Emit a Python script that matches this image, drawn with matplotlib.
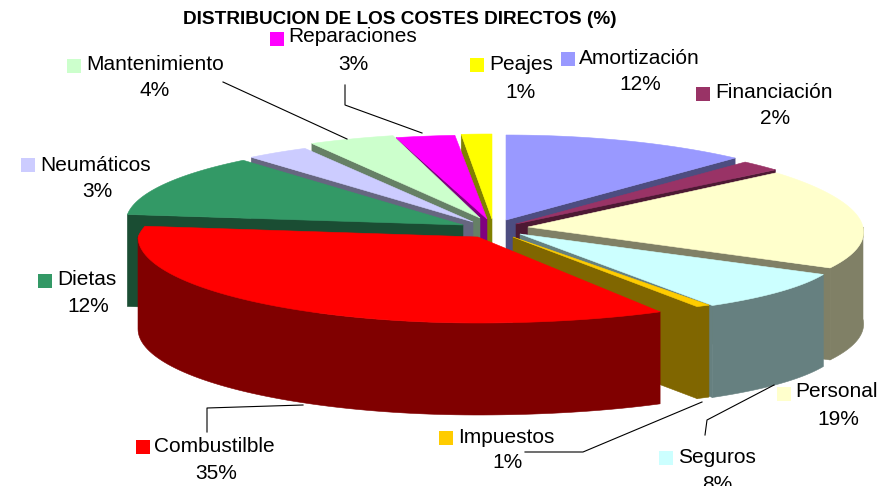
import numpy as np
import matplotlib
matplotlib.use('Agg')
import matplotlib.pyplot as plt
from matplotlib.patches import Polygon, Rectangle

plt.rcParams['font.family'] = ['Liberation Sans', 'DejaVu Sans']

names = ['Amortización', 'Financiación', 'Personal', 'Seguros', 'Impuestos', 'Combustilble',
         'Dietas', 'Neumáticos', 'Mantenimiento', 'Reparaciones', 'Peajes']
# shares, the labels show them rounded
values = [12, 2, 19, 8.2, 0.6, 35.2, 12, 3, 4, 2.6, 1.4]
top_colors = ['#9999FF', '#993366', '#FFFFCC', '#CCFFFF', '#FFCC00', '#FF0000',
              '#339966', '#CCCCFF', '#CCFFCC', '#FF00FF', '#FFFF00']
side_colors = ['#4D4D80', '#4D1933', '#808066', '#668080', '#806600', '#800000',
               '#1A4D33', '#666680', '#668066', '#800080', '#808000']

# pixel layout of each exploded slice: apex x, apex y, radius x, radius y, perspective
slices = [(506, 220, 350, 85, 0.06), (516, 224, 350, 85, 0.06), (528, 227, 335, 85, 0.06),
          (520, 234, 320, 84, 0.17), (513, 237, 355, 80, 0.06), (478, 237, 340, 86, 0.10),
          (463, 225, 337, 84, -0.03), (473, 222, 340, 84, -0.03), (480, 218, 340, 85, -0.03),
          (487, 219, 355, 84, -0.03), (492, 219, 340, 85, -0.03)]
depth = 92

# key x, key y, name x, name y, percent x, percent y
labels = [(561, 52, 579, 58, 640, 85), (696, 87, 715, 92, 775, 118), (777, 387, 795, 391, 838, 419),
          (659, 451, 678, 457, 717, 484), (439, 431, 458, 437, 508, 462), (136, 440, 154, 446, 216, 473),
          (38, 274, 57, 279, 88, 306), (21, 158, 40, 165, 97, 191), (67, 59, 86, 65, 155, 91),
          (270, 32, 288, 37, 353, 64), (470, 58, 489, 65, 521, 92)]

leaders = [([223, 347], [82, 139]),
           ([345, 345, 422], [85, 105, 133]),
           ([207, 207, 303], [432, 408, 405]),
           ([525, 583, 702], [452, 452, 402]),
           ([705, 707, 774], [435, 420, 385])]

fig = plt.figure(figsize=(8.95, 4.86), dpi=100)
ax = fig.add_axes([0, 0, 1, 1])
ax.set_xlim(0, 895)
ax.set_ylim(486, 0)
ax.axis('off')


def rim(s, t):
    cx, cy, a, b, p = s
    t = np.radians(t)
    # no perspective stretch in the front left quarter
    k = np.where((np.sin(t) < 0) & (np.cos(t) < 0), 1, 1 - p * np.cos(t))
    return cx + a * np.sin(t) * k, cy - b * np.cos(t)


def fill(xs, ys, color):
    ax.add_patch(Polygon(np.column_stack([xs, ys]), closed=True, fc=color, ec=color, lw=0.4))


def draw_slice(i, t0, t1):
    s = slices[i]
    cx, cy = s[0], s[1]
    side = side_colors[i]
    # radial cut faces that look at the viewer
    if np.sin(np.radians(t0)) < 0:
        x, y = rim(s, t0)
        fill([cx, x, x, cx], [cy, y, y + depth, cy + depth], side)
    if np.sin(np.radians(t1)) > 0:
        x, y = rim(s, t1)
        fill([cx, x, x, cx], [cy, y, y + depth, cy + depth], side)
    # outer wall, only the front half of the ellipse
    lo, hi = max(t0, 90), min(t1, 270)
    if hi > lo:
        x, y = rim(s, np.linspace(lo, hi, 80))
        fill(np.r_[x, x[::-1]], np.r_[y, y[::-1] + depth], side)
    x, y = rim(s, np.linspace(t0, t1, 80))
    fill(np.r_[cx, x], np.r_[cy, y], top_colors[i])


edges = np.r_[0, np.cumsum(values)] * 3.6
for i in [0, 1, 2, 3, 4, 10, 9, 8, 7, 6, 5]:
    draw_slice(i, edges[i], edges[i + 1])

for xs, ys in leaders:
    ax.plot(xs, ys, color='k', lw=0.8)

for i, (kx, ky, nx, ny, px, py) in enumerate(labels):
    ax.add_patch(Rectangle((kx, ky), 14, 14, fc=top_colors[i], ec='none'))
    ax.text(nx, ny, names[i], fontsize=15, ha='left', va='center', color='k')
    ax.text(px, py, str(round(values[i])) + '%', fontsize=15, ha='center', va='center', color='k')

ax.text(399.5, 20, 'DISTRIBUCION DE LOS COSTES DIRECTOS (%)', fontsize=13.7, fontweight='bold',
        ha='center', va='center', color='k')

fig.savefig('out.png', dpi=100)
